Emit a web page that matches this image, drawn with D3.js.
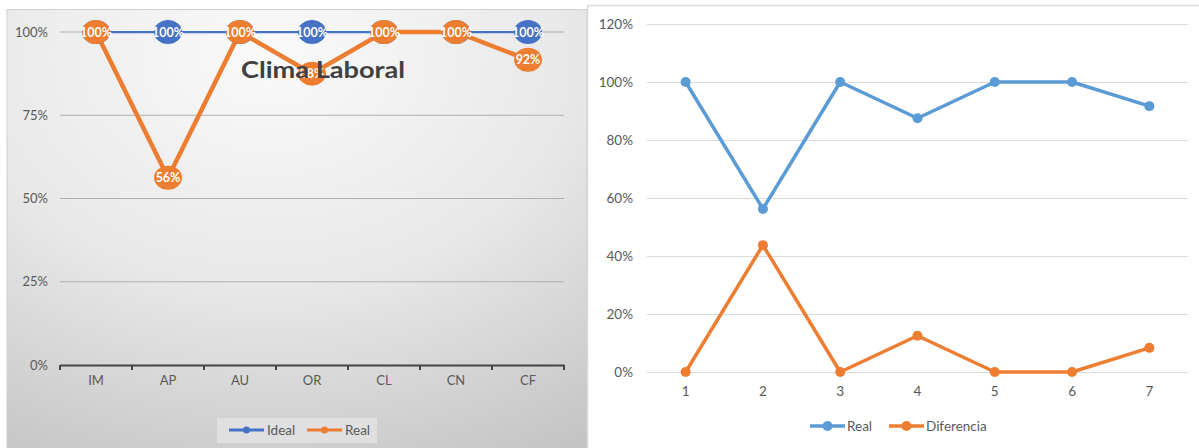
<!DOCTYPE html>
<html>
<head>
<meta charset="utf-8">
<script src="https://cdn.jsdelivr.net/npm/d3@7"></script>
<style>
  html, body { margin: 0; padding: 0; background: #ffffff; }
  svg { display: block; }
  text { font-family: Lato, "Open Sans", sans-serif; }
</style>
</head>
<body>
<svg id="chart" width="1199" height="448"></svg>
<script>
// ---- data ----
const categories = ["IM", "AP", "AU", "OR", "CL", "CN", "CF"];
const ideal = [1, 1, 1, 1, 1, 1, 1];
const real = [1, 0.5625, 1, 0.875, 1, 1, 0.9167];
const indices = ["1", "2", "3", "4", "5", "6", "7"];
const realRight = [1, 0.5625, 1, 0.875, 1, 1, 0.9167];
const diferencia = [0, 0.4375, 0, 0.125, 0, 0, 0.0833];
const leftTicks = [0, 0.25, 0.5, 0.75, 1];
const rightTicks = [0, 0.2, 0.4, 0.6, 0.8, 1.0, 1.2];
const leftTitle = "Clima Laboral";
const leftLegend = ["Ideal", "Real"];
const rightLegend = ["Real", "Diferencia"];

const svg = d3.select("#chart");
const pct = d3.format(".0%");

// ================= LEFT CHART =================
const defs = svg.append("defs");
const grad = defs.append("radialGradient").attr("id", "bgGrad")
  .attr("cx", 0.45).attr("cy", 0.1).attr("r", 1.05).attr("fx", 0.45).attr("fy", 0.1);
grad.append("stop").attr("offset", 0).attr("stop-color", "#fafafa");
grad.append("stop").attr("offset", 0.5).attr("stop-color", "#e8e8e8");
grad.append("stop").attr("offset", 1).attr("stop-color", "#c2c2c2");

svg.append("rect").attr("x", 7).attr("y", 9.5).attr("width", 580).attr("height", 445)
  .attr("fill", "url(#bgGrad)").attr("stroke", "#cfcfcf").attr("stroke-width", 1);

const L = svg.append("g");
const xL = d3.scaleBand().domain(categories).range([60, 564]).padding(0);
const yL = d3.scaleLinear().domain([0, 1]).range([365, 32]);
const cxL = c => xL(c) + xL.bandwidth() / 2;

// gridlines
L.append("g").selectAll("line").data(leftTicks.filter(t => t > 0)).join("line")
  .attr("x1", 60).attr("x2", 564)
  .attr("y1", d => yL(d)).attr("y2", d => yL(d))
  .attr("stroke", "#b0b0b0").attr("stroke-width", 1);

// y labels
const yAxL = d3.axisLeft(yL).tickValues(leftTicks).tickFormat(d3.format(".0%")).tickSize(0).tickPadding(0);
const gyL = L.append("g").attr("transform", "translate(48,0)").call(yAxL);
gyL.select(".domain").remove();
gyL.selectAll("text").attr("fill", "#595959").style("font-size", "13px").style("font-family", "Lato, sans-serif");

// x axis
const xAxL = d3.axisBottom(xL).tickSize(0).tickPadding(11);
const gxL = L.append("g").attr("transform", "translate(0,365)").call(xAxL);
gxL.select(".domain").attr("stroke", "#444").attr("stroke-width", 2);
gxL.selectAll("text").attr("fill", "#595959").style("font-size", "13px").style("font-family", "Lato, sans-serif");
// boundary tick marks
const bounds = categories.map(c => xL(c)).concat([xL(categories[categories.length - 1]) + xL.bandwidth()]);
gxL.selectAll("line.bt").data(bounds).join("line").attr("class", "bt")
  .attr("x1", d => d).attr("x2", d => d).attr("y1", 0).attr("y2", 5)
  .attr("stroke", "#444").attr("stroke-width", 2);

// lines
const lineL = d3.line().x((d, i) => cxL(categories[i])).y(d => yL(d));
L.append("path").datum(ideal).attr("d", lineL).attr("fill", "none")
  .attr("stroke", "#4472C4").attr("stroke-width", 2.25);
L.append("path").datum(real).attr("d", lineL).attr("fill", "none")
  .attr("stroke", "#ED7D31").attr("stroke-width", 4.5).attr("stroke-linejoin", "round");

function labels(data, color) {
  const g = L.append("g");
  const items = g.selectAll("g").data(data).join("g")
    .attr("transform", (d, i) => `translate(${cxL(categories[i])},${yL(d)})`);
  items.append("ellipse").attr("rx", 14).attr("ry", 12).attr("fill", color);
  items.append("text").text(d => pct(d)).attr("text-anchor", "middle").attr("dy", "0.36em")
    .attr("fill", "#ffffff").style("font-size", "12.5px").style("font-weight", "bold");
}
labels(ideal, "#4472C4");
labels(real, "#ED7D31");

// title
L.append("text").text(leftTitle).attr("x", 323).attr("y", 78).attr("text-anchor", "middle")
  .attr("fill", "#404040").style("font-size", "23px").style("font-weight", "bold")
  .attr("textLength", 164).attr("lengthAdjust", "spacingAndGlyphs");

// legend
L.append("rect").attr("x", 217).attr("y", 418).attr("width", 160).attr("height", 25)
  .attr("fill", "#e4e4e4").attr("opacity", 0.8);
const legL = [{name: leftLegend[0], color: "#4472C4", x: 229}, {name: leftLegend[1], color: "#ED7D31", x: 307}];
const lg = L.append("g").selectAll("g").data(legL).join("g").attr("transform", d => `translate(${d.x},430)`);
lg.append("line").attr("x1", 0).attr("x2", 35).attr("stroke", d => d.color).attr("stroke-width", 3);
lg.append("circle").attr("cx", 17.5).attr("r", 3.5).attr("fill", d => d.color);
lg.append("text").text(d => d.name).attr("x", 38).attr("dy", "0.35em").attr("fill", "#595959").style("font-size", "13.5px");

// ================= RIGHT CHART =================
svg.append("rect").attr("x", 587.5).attr("y", 5.5).attr("width", 625).attr("height", 450)
  .attr("fill", "#ffffff").attr("stroke", "#d9d9d9").attr("stroke-width", 1.5);

const R = svg.append("g");
const xR = d3.scaleBand().domain(indices).range([647, 1188]).padding(0);
const yR = d3.scaleLinear().domain([0, 1.2]).range([372, 24]);
const cxR = c => xR(c) + xR.bandwidth() / 2;

R.append("g").selectAll("line").data(rightTicks).join("line")
  .attr("x1", 647).attr("x2", 1188)
  .attr("y1", d => Math.round(yR(d)) + 0.5).attr("y2", d => Math.round(yR(d)) + 0.5)
  .attr("stroke", "#d9d9d9").attr("stroke-width", 1);

const yAxR = d3.axisLeft(yR).tickValues(rightTicks).tickFormat(d3.format(".0%")).tickSize(0).tickPadding(0);
const gyR = R.append("g").attr("transform", "translate(633,0)").call(yAxR);
gyR.select(".domain").remove();
gyR.selectAll("text").attr("fill", "#595959").style("font-size", "13.5px").style("font-family", "Lato, sans-serif");

const xAxR = d3.axisBottom(xR).tickSize(0).tickPadding(14);
const gxR = R.append("g").attr("transform", "translate(0,372)").call(xAxR);
gxR.select(".domain").remove();
gxR.selectAll("text").attr("fill", "#595959").style("font-size", "13.5px").style("font-family", "Lato, sans-serif");

const lineR = d3.line().x((d, i) => cxR(indices[i])).y(d => yR(d));
const seriesR = [{vals: realRight, color: "#5B9BD5"}, {vals: diferencia, color: "#ED7D31"}];
seriesR.forEach(s => {
  R.append("path").datum(s.vals).attr("d", lineR).attr("fill", "none")
    .attr("stroke", s.color).attr("stroke-width", 3.5).attr("stroke-linejoin", "round");
  R.append("g").selectAll("circle").data(s.vals).join("circle")
    .attr("cx", (d, i) => cxR(indices[i])).attr("cy", d => yR(d)).attr("r", 5)
    .attr("fill", s.color);
});

const legR = [{name: rightLegend[0], color: "#5B9BD5", x: 810}, {name: rightLegend[1], color: "#ED7D31", x: 889}];
const lgr = R.append("g").selectAll("g").data(legR).join("g").attr("transform", d => `translate(${d.x},426)`);
lgr.append("line").attr("x1", 0).attr("x2", 35).attr("stroke", d => d.color).attr("stroke-width", 3.5);
lgr.append("circle").attr("cx", 17.5).attr("r", 5).attr("fill", d => d.color);
lgr.append("text").text(d => d.name).attr("x", 37).attr("dy", "0.35em").attr("fill", "#595959").style("font-size", "13.5px");
</script>
</body>
</html>
